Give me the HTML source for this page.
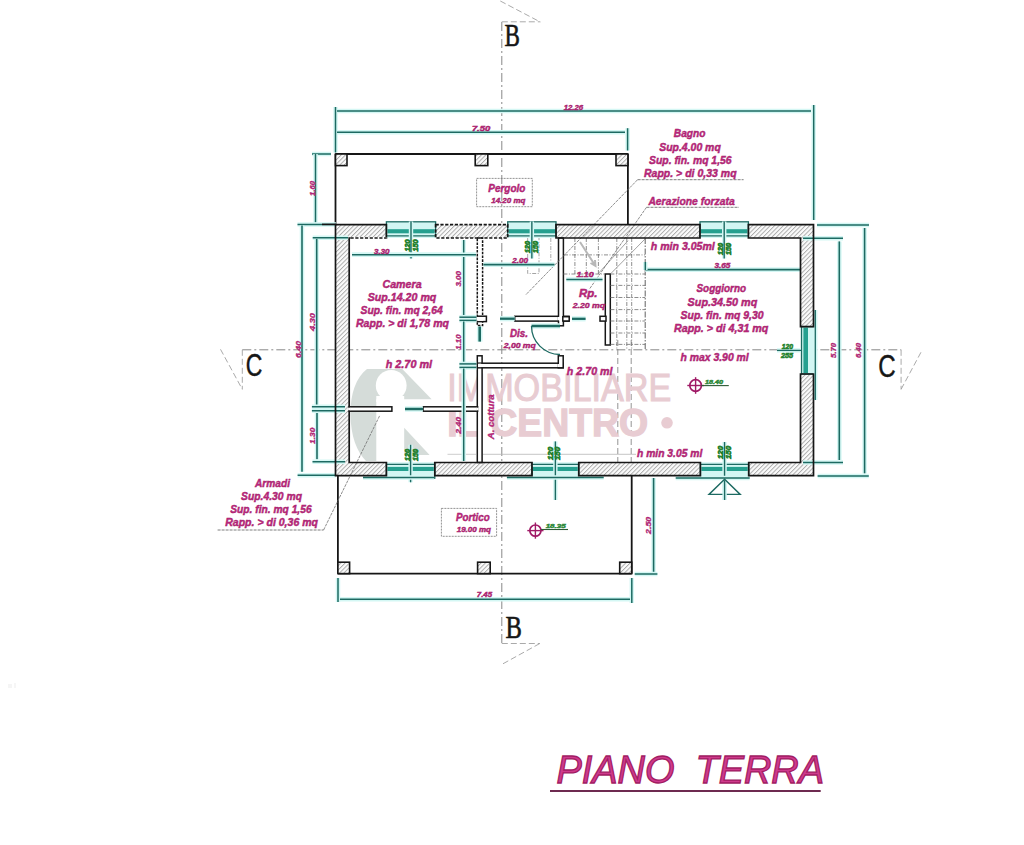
<!DOCTYPE html>
<html><head><meta charset="utf-8"><title>Piano Terra</title>
<style>
html,body{margin:0;padding:0;background:#fff;}
body{width:1024px;height:845px;overflow:hidden;font-family:"Liberation Sans", sans-serif;}
svg{display:block;}
</style></head><body>
<svg width="1024" height="845" viewBox="0 0 1024 845">
<defs>
<pattern id="h" width="3.1" height="3.1" patternUnits="userSpaceOnUse" patternTransform="rotate(45)">
<rect width="3.1" height="3.1" fill="#fbfbfb"/>
<line x1="0.5" y1="0" x2="0.5" y2="3.1" stroke="#a2a2a2" stroke-width="0.85"/>
</pattern>
</defs>
<rect width="1024" height="845" fill="#fff"/>
<rect x="8" y="684" width="4" height="4" fill="#f5f5f5"/><rect x="14" y="683" width="2" height="5" fill="#f6f6f6"/>
<line x1="501.8" y1="22" x2="501.8" y2="643.5" stroke="#888888" stroke-width="1.0" stroke-dasharray="9 3 2 3"/>
<line x1="501.8" y1="21.8" x2="540.3" y2="21.8" stroke="#a0a0a0" stroke-width="0.9" stroke-dasharray="6 3"/>
<line x1="500.3" y1="1" x2="540.3" y2="22" stroke="#a0a0a0" stroke-width="0.9" stroke-dasharray="6 3"/>
<line x1="501.8" y1="643.5" x2="539.8" y2="643.5" stroke="#a0a0a0" stroke-width="0.9" stroke-dasharray="6 3"/>
<line x1="539.8" y1="643.5" x2="502.2" y2="664.2" stroke="#a0a0a0" stroke-width="0.9" stroke-dasharray="6 3"/>
<line x1="242.3" y1="349.8" x2="901.2" y2="349.8" stroke="#888888" stroke-width="1.0" stroke-dasharray="9 3 2 3"/>
<line x1="242.3" y1="349.8" x2="242.3" y2="389.3" stroke="#a0a0a0" stroke-width="0.9" stroke-dasharray="6 3"/>
<line x1="220.5" y1="349.3" x2="242.3" y2="389.3" stroke="#a0a0a0" stroke-width="0.9" stroke-dasharray="6 3"/>
<line x1="901.1" y1="349.8" x2="901.1" y2="389.3" stroke="#a0a0a0" stroke-width="0.9" stroke-dasharray="6 3"/>
<line x1="901.1" y1="389.3" x2="922.3" y2="349.8" stroke="#a0a0a0" stroke-width="0.9" stroke-dasharray="6 3"/>
<line x1="617.8" y1="340" x2="617.8" y2="476" stroke="#888888" stroke-width="0.9" stroke-dasharray="6 3"/>
<line x1="631.2" y1="340" x2="631.2" y2="476" stroke="#888888" stroke-width="0.9" stroke-dasharray="6 3"/>
<g>
<path d="M402.3,369.1 L431.6,399.2 L376.3,399.2 L376.3,461 L366,461 C357,452 350.5,436 350.5,414 C350.5,393 356,378 367,369.1 Z" fill="#d5dcd9"/>
<circle cx="391.2" cy="385.4" r="15.4" fill="#fff"/>
<path d="M376.3,396 L404.2,396 L404.2,402 L376.3,402 Z" fill="#fff"/>
<path d="M404.2,427.7 L404.2,455 L429.6,455 Z" fill="#d5dcd9"/>
</g>
<text x="447.2" y="401" font-size="38" font-weight="normal" font-family='"Liberation Sans", sans-serif' fill="#e8ccd2" stroke="#e8ccd2" stroke-width="1.1" textLength="224" lengthAdjust="spacingAndGlyphs">IMMOBILIARE</text>
<text x="447.2" y="436" font-size="38" font-weight="bold" font-family='"Liberation Sans", sans-serif' fill="#e8ccd2" stroke="#e8ccd2" stroke-width="1.3" textLength="201" lengthAdjust="spacingAndGlyphs">IL CENTRO</text>
<circle cx="667" cy="422.8" r="5.8" fill="#e8ccd2"/>
<line x1="335.5" y1="154" x2="627.9" y2="154" stroke="#161616" stroke-width="1.8"/>
<line x1="335.5" y1="154" x2="335.5" y2="224.5" stroke="#161616" stroke-width="1.8"/>
<line x1="627.9" y1="154" x2="627.9" y2="224.5" stroke="#161616" stroke-width="1.8"/>
<rect x="335.5" y="154" width="11.5" height="11.6" fill="url(#h)" stroke="#161616" stroke-width="1.6"/>
<rect x="475.2" y="154" width="12.6" height="11.6" fill="url(#h)" stroke="#161616" stroke-width="1.6"/>
<rect x="616" y="154" width="11.9" height="11.6" fill="url(#h)" stroke="#161616" stroke-width="1.6"/>
<rect x="476.6" y="178.4" width="55.7" height="28.3" fill="none" stroke="#777" stroke-width="0.8" stroke-dasharray="2 1"/>
<line x1="337.9" y1="475.5" x2="337.9" y2="573.6" stroke="#161616" stroke-width="1.8"/>
<line x1="337.9" y1="573.6" x2="631.7" y2="573.6" stroke="#161616" stroke-width="1.8"/>
<line x1="631.7" y1="475.5" x2="631.7" y2="573.6" stroke="#161616" stroke-width="1.8"/>
<rect x="337.9" y="562.2" width="11.7" height="11.4" fill="url(#h)" stroke="#161616" stroke-width="1.6"/>
<rect x="477.6" y="562.2" width="12.6" height="11.4" fill="url(#h)" stroke="#161616" stroke-width="1.6"/>
<rect x="619.7" y="562.2" width="12" height="11.4" fill="url(#h)" stroke="#161616" stroke-width="1.6"/>
<rect x="441.4" y="508.4" width="55.2" height="27.9" fill="none" stroke="#777" stroke-width="0.8" stroke-dasharray="2 1"/>
<polygon points="386.4,224.6 335.5,224.6 335.5,475.6 386.4,475.6 386.4,462.5 349.2,462.5 349.2,238.0 386.4,238.0" fill="url(#h)" stroke="none"/>
<polygon points="435.6,224.6 507.7,224.6 507.7,238.0 435.6,238.0" fill="url(#h)" stroke="none"/>
<polygon points="556,224.6 700,224.6 700,238.0 556,238.0" fill="url(#h)" stroke="none"/>
<polygon points="748.4,224.6 813.5,224.6 813.5,326.6 800.5,326.6 800.5,238.0 748.4,238.0" fill="url(#h)" stroke="none"/>
<polygon points="813.5,374 813.5,475.6 748.7,475.6 748.7,462.5 800.5,462.5 800.5,374" fill="url(#h)" stroke="none"/>
<polygon points="434.8,462.5 532,462.5 532,475.6 434.8,475.6" fill="url(#h)" stroke="none"/>
<polygon points="578.75,462.5 700.4,462.5 700.4,475.6 578.75,475.6" fill="url(#h)" stroke="none"/>
<rect x="386.4" y="221.8" width="49.200000000000045" height="14.6" fill="#d2f6f3" stroke="#1d6a62" stroke-width="1.3"/>
<rect x="387.4" y="229.2" width="47.200000000000045" height="4.2" fill="#26a08f"/>
<line x1="386.4" y1="235.8" x2="435.6" y2="235.8" stroke="#d4f7f4" stroke-width="4.3"/>
<line x1="386.4" y1="235.8" x2="435.6" y2="235.8" stroke="#1d6a62" stroke-width="1.3"/>
<line x1="411.0" y1="221.5" x2="411.0" y2="258.5" stroke="#d4f7f4" stroke-width="4.4"/>
<line x1="411.0" y1="221.5" x2="411.0" y2="258.5" stroke="#1d6a62" stroke-width="1.4000000000000001"/>
<rect x="507.7" y="221.8" width="48.30000000000001" height="14.6" fill="#d2f6f3" stroke="#1d6a62" stroke-width="1.3"/>
<rect x="508.7" y="229.2" width="46.30000000000001" height="4.2" fill="#26a08f"/>
<line x1="507.7" y1="235.8" x2="556" y2="235.8" stroke="#d4f7f4" stroke-width="4.3"/>
<line x1="507.7" y1="235.8" x2="556" y2="235.8" stroke="#1d6a62" stroke-width="1.3"/>
<line x1="531.85" y1="221.5" x2="531.85" y2="258.5" stroke="#d4f7f4" stroke-width="4.4"/>
<line x1="531.85" y1="221.5" x2="531.85" y2="258.5" stroke="#1d6a62" stroke-width="1.4000000000000001"/>
<rect x="700" y="221.8" width="48.39999999999998" height="14.6" fill="#d2f6f3" stroke="#1d6a62" stroke-width="1.3"/>
<rect x="701" y="229.2" width="46.39999999999998" height="4.2" fill="#26a08f"/>
<line x1="700" y1="235.8" x2="748.4" y2="235.8" stroke="#d4f7f4" stroke-width="4.3"/>
<line x1="700" y1="235.8" x2="748.4" y2="235.8" stroke="#1d6a62" stroke-width="1.3"/>
<line x1="724.2" y1="221.5" x2="724.2" y2="258.5" stroke="#d4f7f4" stroke-width="4.4"/>
<line x1="724.2" y1="221.5" x2="724.2" y2="258.5" stroke="#1d6a62" stroke-width="1.4000000000000001"/>
<rect x="386.4" y="463.6" width="48.400000000000034" height="14.6" fill="#d2f6f3" stroke="#1d6a62" stroke-width="1.3"/>
<rect x="387.4" y="466.8" width="46.400000000000034" height="4.2" fill="#26a08f"/>
<line x1="386.4" y1="464.3" x2="434.8" y2="464.3" stroke="#d4f7f4" stroke-width="4.3"/>
<line x1="386.4" y1="464.3" x2="434.8" y2="464.3" stroke="#1d6a62" stroke-width="1.3"/>
<line x1="410.6" y1="444.8" x2="410.6" y2="482.3" stroke="#d4f7f4" stroke-width="4.4"/>
<line x1="410.6" y1="444.8" x2="410.6" y2="482.3" stroke="#1d6a62" stroke-width="1.4000000000000001"/>
<rect x="532" y="463.6" width="46.75" height="14.6" fill="#d2f6f3" stroke="#1d6a62" stroke-width="1.3"/>
<rect x="533" y="466.8" width="44.75" height="4.2" fill="#26a08f"/>
<line x1="532" y1="464.3" x2="578.75" y2="464.3" stroke="#d4f7f4" stroke-width="4.3"/>
<line x1="532" y1="464.3" x2="578.75" y2="464.3" stroke="#1d6a62" stroke-width="1.3"/>
<line x1="555.375" y1="441.4" x2="555.375" y2="500" stroke="#d4f7f4" stroke-width="4.4"/>
<line x1="555.375" y1="441.4" x2="555.375" y2="500" stroke="#1d6a62" stroke-width="1.4000000000000001"/>
<rect x="700.4" y="463.6" width="48.30000000000007" height="14.6" fill="#d2f6f3" stroke="#1d6a62" stroke-width="1.3"/>
<rect x="701.4" y="466.8" width="46.30000000000007" height="4.2" fill="#26a08f"/>
<line x1="700.4" y1="464.3" x2="748.7" y2="464.3" stroke="#d4f7f4" stroke-width="4.3"/>
<line x1="700.4" y1="464.3" x2="748.7" y2="464.3" stroke="#1d6a62" stroke-width="1.3"/>
<line x1="724.55" y1="442" x2="724.55" y2="500" stroke="#d4f7f4" stroke-width="4.4"/>
<line x1="724.55" y1="442" x2="724.55" y2="500" stroke="#1d6a62" stroke-width="1.4000000000000001"/>
<rect x="801.5" y="326.6" width="13.5" height="47.4" fill="#d2f6f3" stroke="#1d6a62" stroke-width="1.3"/>
<rect x="803.4" y="327.6" width="4.6" height="45.4" fill="#26a08f"/>
<line x1="815.3" y1="310" x2="815.3" y2="400" stroke="#d4f7f4" stroke-width="4.3"/>
<line x1="815.3" y1="310" x2="815.3" y2="400" stroke="#1d6a62" stroke-width="1.3"/>
<line x1="506.9" y1="477.4" x2="603.7" y2="477.4" stroke="#d4f7f4" stroke-width="4.5"/>
<line x1="506.9" y1="477.4" x2="603.7" y2="477.4" stroke="#1d6a62" stroke-width="1.5"/>
<line x1="675.7" y1="477.9" x2="749.6" y2="477.9" stroke="#d4f7f4" stroke-width="4.5"/>
<line x1="675.7" y1="477.9" x2="749.6" y2="477.9" stroke="#1d6a62" stroke-width="1.5"/>
<line x1="363" y1="477.4" x2="434" y2="477.4" stroke="#d4f7f4" stroke-width="4.5"/>
<line x1="363" y1="477.4" x2="434" y2="477.4" stroke="#1d6a62" stroke-width="1.5"/>
<path d="M724.6,479.2 L709,494.4 L740.2,494.4 Z" fill="none" stroke="#1d6a62" stroke-width="1.4"/>
<line x1="724.6" y1="484" x2="724.6" y2="500" stroke="#d4f7f4" stroke-width="4.4"/>
<line x1="724.6" y1="484" x2="724.6" y2="500" stroke="#1d6a62" stroke-width="1.4000000000000001"/>
<rect x="477.3" y="238.0" width="5.300000000000011" height="87.5" fill="#fff" stroke="#161616" stroke-width="1.5" stroke-dasharray="2.6 1.2"/>
<rect x="477.3" y="316.2" width="9.099999999999966" height="5.400000000000034" fill="#fff" stroke="#161616" stroke-width="1.5"/>
<rect x="477.3" y="355.8" width="4.800000000000011" height="106.69999999999999" fill="#fff" stroke="#161616" stroke-width="1.5"/>
<rect x="477.3" y="363.2" width="85.90000000000003" height="4.600000000000023" fill="#fff" stroke="#161616" stroke-width="1.5"/>
<rect x="478.2" y="363.6" width="3" height="3.5" fill="#fff"/>
<rect x="558.3" y="355.8" width="4.900000000000091" height="12.0" fill="#fff" stroke="#161616" stroke-width="1.5"/>
<rect x="514.7" y="316.3" width="54.299999999999955" height="4.800000000000011" fill="#fff" stroke="#161616" stroke-width="1.5"/>
<rect x="558.5" y="238.0" width="4.899999999999977" height="87.80000000000001" fill="#fff" stroke="#161616" stroke-width="1.5"/>
<rect x="559.3" y="316.9" width="3.4" height="3.8" fill="#fff"/>
<rect x="605.3" y="274" width="5.0" height="71" fill="#fff" stroke="#161616" stroke-width="1.5"/>
<rect x="600" y="316.3" width="6" height="4.800000000000011" fill="#fff" stroke="#161616" stroke-width="1.5"/>
<rect x="349.2" y="406.8" width="42.69999999999999" height="4.399999999999977" fill="#fff" stroke="#161616" stroke-width="1.5"/>
<rect x="423" y="406.8" width="54.60000000000002" height="4.399999999999977" fill="#fff" stroke="#161616" stroke-width="1.5"/>
<rect x="476.4" y="407.7" width="2.2" height="2.6" fill="#fff"/>
<rect x="481.2" y="364.0" width="1.8" height="3.0" fill="#fff"/>
<rect x="557.4" y="364.0" width="1.8" height="3.0" fill="#fff"/>
<rect x="557.7" y="317.0" width="6.5" height="3.3" fill="#fff"/>
<rect x="476.6" y="317.0" width="6.6" height="3.8" fill="#fff"/>
<line x1="479.7" y1="326.5" x2="479.7" y2="341.6" stroke="#d4f7f4" stroke-width="5.6"/>
<line x1="479.7" y1="326.5" x2="479.7" y2="341.6" stroke="#1d6a62" stroke-width="2.5999999999999996"/>
<line x1="500" y1="318.7" x2="514.7" y2="318.7" stroke="#d4f7f4" stroke-width="5.3"/>
<line x1="500" y1="318.7" x2="514.7" y2="318.7" stroke="#1d6a62" stroke-width="2.3"/>
<line x1="572" y1="318.8" x2="585.6" y2="318.8" stroke="#d4f7f4" stroke-width="5.3"/>
<line x1="572" y1="318.8" x2="585.6" y2="318.8" stroke="#1d6a62" stroke-width="2.3"/>
<line x1="405" y1="409" x2="423" y2="409" stroke="#d4f7f4" stroke-width="5.5"/>
<line x1="405" y1="409" x2="423" y2="409" stroke="#1d6a62" stroke-width="2.5"/>
<line x1="531.5" y1="326" x2="560" y2="326" stroke="#d4f7f4" stroke-width="5.5"/>
<line x1="531.5" y1="326" x2="560" y2="326" stroke="#1d6a62" stroke-width="2.5"/>
<path d="M531.5,326 A28.5,28.5 0 0 0 560,354.5" fill="none" stroke="#1d6a62" stroke-width="1.3"/>
<line x1="574.9" y1="238.0" x2="574.9" y2="274" stroke="#707070" stroke-width="0.8" stroke-dasharray="4 1.5 1 1.5"/>
<line x1="586.3" y1="238.0" x2="586.3" y2="274" stroke="#707070" stroke-width="0.8" stroke-dasharray="4 1.5 1 1.5"/>
<line x1="598.4" y1="238.0" x2="598.4" y2="274" stroke="#707070" stroke-width="0.8" stroke-dasharray="4 1.5 1 1.5"/>
<line x1="616.8" y1="238.0" x2="616.8" y2="350" stroke="#707070" stroke-width="0.8" stroke-dasharray="4 1.5 1 1.5"/>
<line x1="626.8" y1="238.0" x2="626.8" y2="350" stroke="#707070" stroke-width="0.8" stroke-dasharray="4 1.5 1 1.5"/>
<line x1="631.7" y1="238.0" x2="631.7" y2="350" stroke="#707070" stroke-width="0.8" stroke-dasharray="4 1.5 1 1.5"/>
<line x1="645.2" y1="238.0" x2="645.2" y2="350" stroke="#505050" stroke-width="0.9" stroke-dasharray="6 1.5 1.5 1.5"/>
<line x1="564" y1="254.9" x2="645" y2="254.9" stroke="#707070" stroke-width="0.8" stroke-dasharray="4 1.5 1 1.5"/>
<line x1="610.4" y1="274" x2="645.2" y2="274" stroke="#707070" stroke-width="0.8" stroke-dasharray="4 1.5 1 1.5"/>
<line x1="610.4" y1="285.4" x2="645.2" y2="285.4" stroke="#707070" stroke-width="0.8" stroke-dasharray="4 1.5 1 1.5"/>
<line x1="610.4" y1="297.5" x2="645.2" y2="297.5" stroke="#707070" stroke-width="0.8" stroke-dasharray="4 1.5 1 1.5"/>
<line x1="610.4" y1="309.6" x2="645.2" y2="309.6" stroke="#707070" stroke-width="0.8" stroke-dasharray="4 1.5 1 1.5"/>
<line x1="610.4" y1="321" x2="645.2" y2="321" stroke="#707070" stroke-width="0.8" stroke-dasharray="4 1.5 1 1.5"/>
<line x1="610.4" y1="333" x2="645.2" y2="333" stroke="#707070" stroke-width="0.8" stroke-dasharray="4 1.5 1 1.5"/>
<line x1="610.4" y1="344.4" x2="645.2" y2="344.4" stroke="#707070" stroke-width="0.8" stroke-dasharray="4 1.5 1 1.5"/>
<line x1="563.4" y1="274" x2="605" y2="274" stroke="#707070" stroke-width="0.8" stroke-dasharray="4 1.5 1 1.5"/>
<line x1="598.4" y1="273.4" x2="628" y2="240.7" stroke="#8a8a8a" stroke-width="0.8"/>
<line x1="611" y1="273.4" x2="645" y2="239" stroke="#8a8a8a" stroke-width="0.8"/>
<path d="M580,242 L595.5,266 M590.5,263 L595.5,266 L595,260" stroke="#b8b8b8" stroke-width="2" fill="none"/>
<rect x="562.8" y="316.7" width="6.400000000000091" height="4.300000000000011" fill="#fff" stroke="#161616" stroke-width="1.5"/>
<path d="M527.7,238 L527.7,273.5 L539,273.5 L539,238" fill="none" stroke="#9a9a9a" stroke-width="0.9" stroke-dasharray="4 1.5 1 1.5"/>
<line x1="550.8" y1="238" x2="550.8" y2="261" stroke="#a0a0a0" stroke-width="0.9" stroke-dasharray="4 1.5 1 1.5"/>
<line x1="637.6" y1="179.7" x2="743.6" y2="179.7" stroke="#707070" stroke-width="0.9" stroke-dasharray="3 1"/>
<line x1="637.6" y1="179.7" x2="525.6" y2="295" stroke="#707070" stroke-width="0.8" stroke-dasharray="3 1"/>
<line x1="646.5" y1="207.3" x2="739" y2="207.3" stroke="#707070" stroke-width="0.9" stroke-dasharray="3 1"/>
<line x1="646.5" y1="207.3" x2="589.5" y2="289" stroke="#707070" stroke-width="0.8" stroke-dasharray="3 1"/>
<line x1="217.6" y1="530" x2="323.6" y2="530" stroke="#707070" stroke-width="0.9" stroke-dasharray="3 1"/>
<line x1="323.6" y1="530" x2="380" y2="415" stroke="#707070" stroke-width="0.8" stroke-dasharray="3 1"/>
<line x1="447.5" y1="454.3" x2="476" y2="454.3" stroke="#c0c0c0" stroke-width="0.8"/>
<line x1="483" y1="454.3" x2="636" y2="454.3" stroke="#b8b8b8" stroke-width="0.8"/>
<line x1="335.5" y1="107" x2="335.5" y2="152.5" stroke="#d4f7f4" stroke-width="4.5"/>
<line x1="335.5" y1="107" x2="335.5" y2="152.5" stroke="#1d6a62" stroke-width="1.5"/>
<line x1="813.7" y1="105" x2="813.7" y2="220" stroke="#d4f7f4" stroke-width="4.5"/>
<line x1="813.7" y1="105" x2="813.7" y2="220" stroke="#1d6a62" stroke-width="1.5"/>
<line x1="627.6" y1="128.2" x2="627.6" y2="150.5" stroke="#d4f7f4" stroke-width="4.5"/>
<line x1="627.6" y1="128.2" x2="627.6" y2="150.5" stroke="#1d6a62" stroke-width="1.5"/>
<line x1="337" y1="111" x2="811" y2="111" stroke="#d4f7f4" stroke-width="4.6"/>
<line x1="337" y1="111" x2="811" y2="111" stroke="#1d6a62" stroke-width="1.6"/>
<line x1="337" y1="132.2" x2="625" y2="132.2" stroke="#d4f7f4" stroke-width="4.6"/>
<line x1="337" y1="132.2" x2="625" y2="132.2" stroke="#1d6a62" stroke-width="1.6"/>
<line x1="312" y1="154" x2="331" y2="154" stroke="#d4f7f4" stroke-width="4.5"/>
<line x1="312" y1="154" x2="331" y2="154" stroke="#1d6a62" stroke-width="1.5"/>
<line x1="315.5" y1="154" x2="315.5" y2="222.5" stroke="#d4f7f4" stroke-width="4.5"/>
<line x1="315.5" y1="154" x2="315.5" y2="222.5" stroke="#1d6a62" stroke-width="1.5"/>
<line x1="297.5" y1="224.4" x2="336" y2="224.4" stroke="#d4f7f4" stroke-width="4.5"/>
<line x1="297.5" y1="224.4" x2="336" y2="224.4" stroke="#1d6a62" stroke-width="1.5"/>
<line x1="302" y1="225.6" x2="302" y2="471.7" stroke="#d4f7f4" stroke-width="4.6"/>
<line x1="302" y1="225.6" x2="302" y2="471.7" stroke="#1d6a62" stroke-width="1.6"/>
<line x1="297.6" y1="475.3" x2="336" y2="475.3" stroke="#d4f7f4" stroke-width="4.5"/>
<line x1="297.6" y1="475.3" x2="336" y2="475.3" stroke="#1d6a62" stroke-width="1.5"/>
<line x1="312.7" y1="237.7" x2="348" y2="237.7" stroke="#d4f7f4" stroke-width="4.5"/>
<line x1="312.7" y1="237.7" x2="348" y2="237.7" stroke="#1d6a62" stroke-width="1.5"/>
<line x1="316.7" y1="238.9" x2="316.7" y2="405.4" stroke="#d4f7f4" stroke-width="4.6"/>
<line x1="316.7" y1="238.9" x2="316.7" y2="405.4" stroke="#1d6a62" stroke-width="1.6"/>
<line x1="311.9" y1="406.7" x2="345" y2="406.7" stroke="#d4f7f4" stroke-width="4.5"/>
<line x1="311.9" y1="406.7" x2="345" y2="406.7" stroke="#1d6a62" stroke-width="1.5"/>
<line x1="311.9" y1="410.8" x2="345" y2="410.8" stroke="#d4f7f4" stroke-width="4.5"/>
<line x1="311.9" y1="410.8" x2="345" y2="410.8" stroke="#1d6a62" stroke-width="1.5"/>
<line x1="317" y1="413" x2="317" y2="459.3" stroke="#d4f7f4" stroke-width="4.6"/>
<line x1="317" y1="413" x2="317" y2="459.3" stroke="#1d6a62" stroke-width="1.6"/>
<line x1="312.5" y1="461.7" x2="345" y2="461.7" stroke="#d4f7f4" stroke-width="4.5"/>
<line x1="312.5" y1="461.7" x2="345" y2="461.7" stroke="#1d6a62" stroke-width="1.5"/>
<line x1="352" y1="254.8" x2="476" y2="254.8" stroke="#d4f7f4" stroke-width="4.6"/>
<line x1="352" y1="254.8" x2="476" y2="254.8" stroke="#1d6a62" stroke-width="1.6"/>
<line x1="463.7" y1="240" x2="463.7" y2="316" stroke="#d4f7f4" stroke-width="4.5"/>
<line x1="463.7" y1="240" x2="463.7" y2="316" stroke="#1d6a62" stroke-width="1.5"/>
<line x1="459.4" y1="317.2" x2="476.4" y2="317.2" stroke="#d4f7f4" stroke-width="4.5"/>
<line x1="459.4" y1="317.2" x2="476.4" y2="317.2" stroke="#1d6a62" stroke-width="1.5"/>
<line x1="459.4" y1="320.4" x2="476.4" y2="320.4" stroke="#d4f7f4" stroke-width="4.5"/>
<line x1="459.4" y1="320.4" x2="476.4" y2="320.4" stroke="#1d6a62" stroke-width="1.5"/>
<line x1="463.7" y1="321.5" x2="463.7" y2="362.5" stroke="#d4f7f4" stroke-width="4.5"/>
<line x1="463.7" y1="321.5" x2="463.7" y2="362.5" stroke="#1d6a62" stroke-width="1.5"/>
<line x1="459.4" y1="363.9" x2="476.4" y2="363.9" stroke="#d4f7f4" stroke-width="4.5"/>
<line x1="459.4" y1="363.9" x2="476.4" y2="363.9" stroke="#1d6a62" stroke-width="1.5"/>
<line x1="459.4" y1="367.4" x2="476.4" y2="367.4" stroke="#d4f7f4" stroke-width="4.5"/>
<line x1="459.4" y1="367.4" x2="476.4" y2="367.4" stroke="#1d6a62" stroke-width="1.5"/>
<line x1="463.7" y1="368.5" x2="463.7" y2="461" stroke="#d4f7f4" stroke-width="4.5"/>
<line x1="463.7" y1="368.5" x2="463.7" y2="461" stroke="#1d6a62" stroke-width="1.5"/>
<line x1="483.4" y1="264.6" x2="554.5" y2="264.6" stroke="#d4f7f4" stroke-width="4.6"/>
<line x1="483.4" y1="264.6" x2="554.5" y2="264.6" stroke="#1d6a62" stroke-width="1.6"/>
<line x1="566.3" y1="279.5" x2="602.5" y2="279.5" stroke="#d4f7f4" stroke-width="4.6"/>
<line x1="566.3" y1="279.5" x2="602.5" y2="279.5" stroke="#1d6a62" stroke-width="1.6"/>
<line x1="645.3" y1="269.6" x2="800" y2="269.6" stroke="#d4f7f4" stroke-width="4.6"/>
<line x1="645.3" y1="269.6" x2="800" y2="269.6" stroke="#1d6a62" stroke-width="1.6"/>
<line x1="645.3" y1="262" x2="645.3" y2="270" stroke="#d4f7f4" stroke-width="4.5"/>
<line x1="645.3" y1="262" x2="645.3" y2="270" stroke="#1d6a62" stroke-width="1.5"/>
<line x1="817" y1="225" x2="869" y2="225" stroke="#d4f7f4" stroke-width="4.5"/>
<line x1="817" y1="225" x2="869" y2="225" stroke="#1d6a62" stroke-width="1.5"/>
<line x1="803" y1="238.3" x2="843" y2="238.3" stroke="#d4f7f4" stroke-width="4.5"/>
<line x1="803" y1="238.3" x2="843" y2="238.3" stroke="#1d6a62" stroke-width="1.5"/>
<line x1="839.3" y1="241.4" x2="839.3" y2="460" stroke="#d4f7f4" stroke-width="4.6"/>
<line x1="839.3" y1="241.4" x2="839.3" y2="460" stroke="#1d6a62" stroke-width="1.6"/>
<line x1="864.6" y1="228" x2="864.6" y2="473.4" stroke="#d4f7f4" stroke-width="4.6"/>
<line x1="864.6" y1="228" x2="864.6" y2="473.4" stroke="#1d6a62" stroke-width="1.6"/>
<line x1="803" y1="462.4" x2="843" y2="462.4" stroke="#d4f7f4" stroke-width="4.5"/>
<line x1="803" y1="462.4" x2="843" y2="462.4" stroke="#1d6a62" stroke-width="1.5"/>
<line x1="817.6" y1="476" x2="868.8" y2="476" stroke="#d4f7f4" stroke-width="4.5"/>
<line x1="817.6" y1="476" x2="868.8" y2="476" stroke="#1d6a62" stroke-width="1.5"/>
<line x1="653.6" y1="478" x2="653.6" y2="573.6" stroke="#d4f7f4" stroke-width="4.6"/>
<line x1="653.6" y1="478" x2="653.6" y2="573.6" stroke="#1d6a62" stroke-width="1.6"/>
<line x1="634.7" y1="574" x2="657.4" y2="574" stroke="#d4f7f4" stroke-width="4.5"/>
<line x1="634.7" y1="574" x2="657.4" y2="574" stroke="#1d6a62" stroke-width="1.5"/>
<line x1="338" y1="578" x2="338" y2="602" stroke="#d4f7f4" stroke-width="4.5"/>
<line x1="338" y1="578" x2="338" y2="602" stroke="#1d6a62" stroke-width="1.5"/>
<line x1="631.8" y1="578" x2="631.8" y2="603" stroke="#d4f7f4" stroke-width="4.5"/>
<line x1="631.8" y1="578" x2="631.8" y2="603" stroke="#1d6a62" stroke-width="1.5"/>
<line x1="340" y1="599.3" x2="630" y2="599.3" stroke="#d4f7f4" stroke-width="4.6"/>
<line x1="340" y1="599.3" x2="630" y2="599.3" stroke="#1d6a62" stroke-width="1.6"/>
<line x1="352" y1="254.8" x2="476" y2="254.8" stroke="#d4f7f4" stroke-width="4.6"/>
<line x1="352" y1="254.8" x2="476" y2="254.8" stroke="#1d6a62" stroke-width="1.6"/>
<line x1="777" y1="350.4" x2="801" y2="350.4" stroke="#d4f7f4" stroke-width="4.3"/>
<line x1="777" y1="350.4" x2="801" y2="350.4" stroke="#1d6a62" stroke-width="1.3"/>
<polygon points="386.4,224.6 335.5,224.6 335.5,475.6 386.4,475.6 386.4,462.5 349.2,462.5 349.2,238.0 386.4,238.0" fill="none" stroke="#161616" stroke-width="1.7" stroke-linejoin="miter"/>
<polygon points="435.6,224.6 507.7,224.6 507.7,238.0 435.6,238.0" fill="none" stroke="#161616" stroke-width="1.7" stroke-linejoin="miter" stroke-dasharray="3.2 1.6"/>
<polygon points="556,224.6 700,224.6 700,238.0 556,238.0" fill="none" stroke="#161616" stroke-width="1.7" stroke-linejoin="miter"/>
<polygon points="748.4,224.6 813.5,224.6 813.5,326.6 800.5,326.6 800.5,238.0 748.4,238.0" fill="none" stroke="#161616" stroke-width="1.7" stroke-linejoin="miter"/>
<polygon points="813.5,374 813.5,475.6 748.7,475.6 748.7,462.5 800.5,462.5 800.5,374" fill="none" stroke="#161616" stroke-width="1.7" stroke-linejoin="miter"/>
<polygon points="434.8,462.5 532,462.5 532,475.6 434.8,475.6" fill="none" stroke="#161616" stroke-width="1.7" stroke-linejoin="miter"/>
<polygon points="578.75,462.5 700.4,462.5 700.4,475.6 578.75,475.6" fill="none" stroke="#161616" stroke-width="1.7" stroke-linejoin="miter"/>
<rect x="348.1" y="407.7" width="2.3" height="2.6" fill="#fff"/>
<line x1="350.5" y1="238.0" x2="386.4" y2="238.0" stroke="#ffffff" stroke-width="2.0"/>
<line x1="350.5" y1="238.0" x2="386.4" y2="238.0" stroke="#161616" stroke-width="1.7" stroke-dasharray="3.2 1.6"/>
<line x1="322" y1="224.4" x2="336" y2="224.4" stroke="#161616" stroke-width="1.6"/>
<circle cx="695.6" cy="385.5" r="5.8" fill="none" stroke="#a01a66" stroke-width="1.7"/>
<line x1="687.3000000000001" y1="385.5" x2="703.9" y2="385.5" stroke="#a01a66" stroke-width="1.4"/>
<line x1="695.6" y1="377.2" x2="695.6" y2="393.8" stroke="#a01a66" stroke-width="1.4"/>
<line x1="701.4" y1="385.6" x2="728.8" y2="385.6" stroke="#2d5a35" stroke-width="1.1"/>
<text x="705" y="383.6" font-size="5.8" font-weight="bold" font-style="italic" fill="#2f8a3c" textLength="18.0" lengthAdjust="spacingAndGlyphs" font-family='"Liberation Sans", sans-serif' stroke="#2f8a3c" stroke-width="0.5">18.40</text>
<circle cx="535.4" cy="530.6" r="5.6" fill="none" stroke="#a01a66" stroke-width="1.7"/>
<line x1="527.3" y1="530.6" x2="543.5" y2="530.6" stroke="#a01a66" stroke-width="1.4"/>
<line x1="535.4" y1="522.5" x2="535.4" y2="538.7" stroke="#a01a66" stroke-width="1.4"/>
<line x1="541.0" y1="529.5" x2="568" y2="529.5" stroke="#2d5a35" stroke-width="1.1"/>
<text x="545.7" y="527.5" font-size="5.8" font-weight="bold" font-style="italic" fill="#2f8a3c" textLength="19.9" lengthAdjust="spacingAndGlyphs" font-family='"Liberation Sans", sans-serif' stroke="#2f8a3c" stroke-width="0.5">18.35</text>
<text x="673.8" y="137.1" font-size="10.2" font-weight="bold" font-style="italic" fill="#c0287f" textLength="31.7" lengthAdjust="spacingAndGlyphs" font-family='"Liberation Sans", sans-serif' stroke="#a01a66" stroke-width="0.4">Bagno</text>
<text x="659.2" y="150.5" font-size="10.2" font-weight="bold" font-style="italic" fill="#c0287f" textLength="61.6" lengthAdjust="spacingAndGlyphs" font-family='"Liberation Sans", sans-serif' stroke="#a01a66" stroke-width="0.4">Sup.4.00 mq</text>
<text x="649" y="163.8" font-size="10.2" font-weight="bold" font-style="italic" fill="#c0287f" textLength="82.6" lengthAdjust="spacingAndGlyphs" font-family='"Liberation Sans", sans-serif' stroke="#a01a66" stroke-width="0.4">Sup. fin. mq 1,56</text>
<text x="644" y="176.5" font-size="10.2" font-weight="bold" font-style="italic" fill="#c0287f" textLength="92.6" lengthAdjust="spacingAndGlyphs" font-family='"Liberation Sans", sans-serif' stroke="#a01a66" stroke-width="0.4">Rapp. &gt; di 0,33 mq</text>
<text x="648.4" y="205" font-size="10.2" font-weight="bold" font-style="italic" fill="#c0287f" textLength="86.3" lengthAdjust="spacingAndGlyphs" font-family='"Liberation Sans", sans-serif' stroke="#a01a66" stroke-width="0.4">Aerazione forzata</text>
<text x="382.5" y="288" font-size="10.2" font-weight="bold" font-style="italic" fill="#c0287f" textLength="39.1" lengthAdjust="spacingAndGlyphs" font-family='"Liberation Sans", sans-serif' stroke="#a01a66" stroke-width="0.4">Camera</text>
<text x="367.7" y="301.4" font-size="10.2" font-weight="bold" font-style="italic" fill="#c0287f" textLength="68.7" lengthAdjust="spacingAndGlyphs" font-family='"Liberation Sans", sans-serif' stroke="#a01a66" stroke-width="0.4">Sup.14.20 mq</text>
<text x="360.6" y="313.9" font-size="10.2" font-weight="bold" font-style="italic" fill="#c0287f" textLength="82.1" lengthAdjust="spacingAndGlyphs" font-family='"Liberation Sans", sans-serif' stroke="#a01a66" stroke-width="0.4">Sup. fin. mq 2,64</text>
<text x="356" y="327.2" font-size="10.2" font-weight="bold" font-style="italic" fill="#c0287f" textLength="93.0" lengthAdjust="spacingAndGlyphs" font-family='"Liberation Sans", sans-serif' stroke="#a01a66" stroke-width="0.4">Rapp. &gt; di 1,78 mq</text>
<text x="696.5" y="292.4" font-size="10.2" font-weight="bold" font-style="italic" fill="#c0287f" textLength="49.5" lengthAdjust="spacingAndGlyphs" font-family='"Liberation Sans", sans-serif' stroke="#a01a66" stroke-width="0.4">Soggiorno</text>
<text x="687.6" y="305.8" font-size="10.2" font-weight="bold" font-style="italic" fill="#c0287f" textLength="69.7" lengthAdjust="spacingAndGlyphs" font-family='"Liberation Sans", sans-serif' stroke="#a01a66" stroke-width="0.4">Sup.34.50 mq</text>
<text x="680.6" y="318.6" font-size="10.2" font-weight="bold" font-style="italic" fill="#c0287f" textLength="83.0" lengthAdjust="spacingAndGlyphs" font-family='"Liberation Sans", sans-serif' stroke="#a01a66" stroke-width="0.4">Sup. fin. mq 9,30</text>
<text x="674" y="332" font-size="10.2" font-weight="bold" font-style="italic" fill="#c0287f" textLength="94.4" lengthAdjust="spacingAndGlyphs" font-family='"Liberation Sans", sans-serif' stroke="#a01a66" stroke-width="0.4">Rapp. &gt; di 4,31 mq</text>
<text x="255" y="486.6" font-size="10.2" font-weight="bold" font-style="italic" fill="#c0287f" textLength="35.0" lengthAdjust="spacingAndGlyphs" font-family='"Liberation Sans", sans-serif' stroke="#a01a66" stroke-width="0.4">Armadi</text>
<text x="241.1" y="500.3" font-size="10.2" font-weight="bold" font-style="italic" fill="#c0287f" textLength="60.9" lengthAdjust="spacingAndGlyphs" font-family='"Liberation Sans", sans-serif' stroke="#a01a66" stroke-width="0.4">Sup.4.30 mq</text>
<text x="230.3" y="513.3" font-size="10.2" font-weight="bold" font-style="italic" fill="#c0287f" textLength="81.3" lengthAdjust="spacingAndGlyphs" font-family='"Liberation Sans", sans-serif' stroke="#a01a66" stroke-width="0.4">Sup. fin. mq 1,56</text>
<text x="225.2" y="526.2" font-size="10.2" font-weight="bold" font-style="italic" fill="#c0287f" textLength="92.8" lengthAdjust="spacingAndGlyphs" font-family='"Liberation Sans", sans-serif' stroke="#a01a66" stroke-width="0.4">Rapp. &gt; di 0,36 mq</text>
<text x="650.8" y="250" font-size="10.2" font-weight="bold" font-style="italic" fill="#c0287f" textLength="64.0" lengthAdjust="spacingAndGlyphs" font-family='"Liberation Sans", sans-serif' stroke="#a01a66" stroke-width="0.4">h min 3.05ml</text>
<text x="680.5" y="360.5" font-size="10.2" font-weight="bold" font-style="italic" fill="#c0287f" textLength="68.2" lengthAdjust="spacingAndGlyphs" font-family='"Liberation Sans", sans-serif' stroke="#a01a66" stroke-width="0.4">h max 3.90 ml</text>
<text x="385.7" y="367.6" font-size="10.2" font-weight="bold" font-style="italic" fill="#c0287f" textLength="46.4" lengthAdjust="spacingAndGlyphs" font-family='"Liberation Sans", sans-serif' stroke="#a01a66" stroke-width="0.4">h 2.70 ml</text>
<text x="566.8" y="375.3" font-size="10.2" font-weight="bold" font-style="italic" fill="#c0287f" textLength="45.7" lengthAdjust="spacingAndGlyphs" font-family='"Liberation Sans", sans-serif' stroke="#a01a66" stroke-width="0.4">h 2.70 ml</text>
<text x="637" y="457" font-size="10.2" font-weight="bold" font-style="italic" fill="#c0287f" textLength="65.3" lengthAdjust="spacingAndGlyphs" font-family='"Liberation Sans", sans-serif' stroke="#a01a66" stroke-width="0.4">h min 3.05 ml</text>
<text x="510" y="336.7" font-size="10.2" font-weight="bold" font-style="italic" fill="#c0287f" textLength="18.0" lengthAdjust="spacingAndGlyphs" font-family='"Liberation Sans", sans-serif' stroke="#a01a66" stroke-width="0.4">Dis.</text>
<text x="503.75" y="348.4" font-size="7.2" font-weight="bold" font-style="italic" fill="#c0287f" textLength="32.0" lengthAdjust="spacingAndGlyphs" font-family='"Liberation Sans", sans-serif' stroke="#a01a66" stroke-width="0.4">2,00 mq</text>
<text x="579" y="296.8" font-size="10.2" font-weight="bold" font-style="italic" fill="#c0287f" textLength="18.5" lengthAdjust="spacingAndGlyphs" font-family='"Liberation Sans", sans-serif' stroke="#a01a66" stroke-width="0.4">Rp.</text>
<text x="572.7" y="308" font-size="7.2" font-weight="bold" font-style="italic" fill="#c0287f" textLength="32.3" lengthAdjust="spacingAndGlyphs" font-family='"Liberation Sans", sans-serif' stroke="#a01a66" stroke-width="0.4">2.20 mq</text>
<text x="488.3" y="191.7" font-size="10.2" font-weight="bold" font-style="italic" fill="#c0287f" textLength="37.1" lengthAdjust="spacingAndGlyphs" font-family='"Liberation Sans", sans-serif' stroke="#a01a66" stroke-width="0.4">Pergolo</text>
<text x="491.25" y="203" font-size="7" font-weight="bold" font-style="italic" fill="#c0287f" textLength="34.1" lengthAdjust="spacingAndGlyphs" font-family='"Liberation Sans", sans-serif' stroke="#a01a66" stroke-width="0.4">14.20 mq</text>
<text x="456" y="520.5" font-size="10.2" font-weight="bold" font-style="italic" fill="#c0287f" textLength="33.7" lengthAdjust="spacingAndGlyphs" font-family='"Liberation Sans", sans-serif' stroke="#a01a66" stroke-width="0.4">Portico</text>
<text x="456.7" y="531.9" font-size="7" font-weight="bold" font-style="italic" fill="#c0287f" textLength="34.3" lengthAdjust="spacingAndGlyphs" font-family='"Liberation Sans", sans-serif' stroke="#a01a66" stroke-width="0.4">19.00 mq</text>
<text x="563.7" y="110" font-size="6.6" font-weight="bold" font-style="italic" fill="#c0287f" textLength="19.5" lengthAdjust="spacingAndGlyphs" font-family='"Liberation Sans", sans-serif' stroke="#a01a66" stroke-width="0.4">12.26</text>
<text x="471.9" y="130.9" font-size="6.6" font-weight="bold" font-style="italic" fill="#c0287f" textLength="18.3" lengthAdjust="spacingAndGlyphs" font-family='"Liberation Sans", sans-serif' stroke="#a01a66" stroke-width="0.4">7.50</text>
<text x="374" y="253.5" font-size="6.6" font-weight="bold" font-style="italic" fill="#c0287f" textLength="15.5" lengthAdjust="spacingAndGlyphs" font-family='"Liberation Sans", sans-serif' stroke="#a01a66" stroke-width="0.4">3.30</text>
<text x="512.3" y="262.5" font-size="6.6" font-weight="bold" font-style="italic" fill="#c0287f" textLength="15.7" lengthAdjust="spacingAndGlyphs" font-family='"Liberation Sans", sans-serif' stroke="#a01a66" stroke-width="0.4">2.00</text>
<text x="576.4" y="277.3" font-size="6.6" font-weight="bold" font-style="italic" fill="#c0287f" textLength="17.2" lengthAdjust="spacingAndGlyphs" font-family='"Liberation Sans", sans-serif' stroke="#a01a66" stroke-width="0.4">1.10</text>
<text x="714.4" y="267.8" font-size="6.6" font-weight="bold" font-style="italic" fill="#c0287f" textLength="15.8" lengthAdjust="spacingAndGlyphs" font-family='"Liberation Sans", sans-serif' stroke="#a01a66" stroke-width="0.4">3.65</text>
<text x="476.8" y="597.2" font-size="6.6" font-weight="bold" font-style="italic" fill="#c0287f" textLength="15.2" lengthAdjust="spacingAndGlyphs" font-family='"Liberation Sans", sans-serif' stroke="#a01a66" stroke-width="0.4">7.45</text>
<text transform="translate(315.4,196.0) rotate(-90)" x="0" y="0" font-size="6.6" font-weight="bold" font-style="italic" fill="#c0287f" textLength="15.0" lengthAdjust="spacingAndGlyphs" font-family='"Liberation Sans", sans-serif' stroke="#a01a66" stroke-width="0.3">1.60</text>
<text transform="translate(301.4,358.0) rotate(-90)" x="0" y="0" font-size="6.6" font-weight="bold" font-style="italic" fill="#c0287f" textLength="17.0" lengthAdjust="spacingAndGlyphs" font-family='"Liberation Sans", sans-serif' stroke="#a01a66" stroke-width="0.3">6.40</text>
<text transform="translate(314.9,331.0) rotate(-90)" x="0" y="0" font-size="6.6" font-weight="bold" font-style="italic" fill="#c0287f" textLength="18.0" lengthAdjust="spacingAndGlyphs" font-family='"Liberation Sans", sans-serif' stroke="#a01a66" stroke-width="0.3">4.30</text>
<text transform="translate(314.9,444.0) rotate(-90)" x="0" y="0" font-size="6.6" font-weight="bold" font-style="italic" fill="#c0287f" textLength="16.4" lengthAdjust="spacingAndGlyphs" font-family='"Liberation Sans", sans-serif' stroke="#a01a66" stroke-width="0.3">1.30</text>
<text transform="translate(461.4,286.6) rotate(-90)" x="0" y="0" font-size="6.6" font-weight="bold" font-style="italic" fill="#c0287f" textLength="15.6" lengthAdjust="spacingAndGlyphs" font-family='"Liberation Sans", sans-serif' stroke="#a01a66" stroke-width="0.3">3.00</text>
<text transform="translate(460.9,349.7) rotate(-90)" x="0" y="0" font-size="6.6" font-weight="bold" font-style="italic" fill="#c0287f" textLength="15.2" lengthAdjust="spacingAndGlyphs" font-family='"Liberation Sans", sans-serif' stroke="#a01a66" stroke-width="0.3">1.10</text>
<text transform="translate(461.0,433.7) rotate(-90)" x="0" y="0" font-size="6.6" font-weight="bold" font-style="italic" fill="#c0287f" textLength="16.7" lengthAdjust="spacingAndGlyphs" font-family='"Liberation Sans", sans-serif' stroke="#a01a66" stroke-width="0.3">2.40</text>
<text transform="translate(493.7,439.2) rotate(-90)" x="0" y="0" font-size="8.6" font-weight="bold" font-style="italic" fill="#c0287f" textLength="44.7" lengthAdjust="spacingAndGlyphs" font-family='"Liberation Sans", sans-serif' stroke="#a01a66" stroke-width="0.3">A. cottura</text>
<text transform="translate(836.1,358.0) rotate(-90)" x="0" y="0" font-size="6.6" font-weight="bold" font-style="italic" fill="#c0287f" textLength="15.0" lengthAdjust="spacingAndGlyphs" font-family='"Liberation Sans", sans-serif' stroke="#a01a66" stroke-width="0.3">5.70</text>
<text transform="translate(861.4,358.0) rotate(-90)" x="0" y="0" font-size="6.6" font-weight="bold" font-style="italic" fill="#c0287f" textLength="15.0" lengthAdjust="spacingAndGlyphs" font-family='"Liberation Sans", sans-serif' stroke="#a01a66" stroke-width="0.3">6.40</text>
<text transform="translate(650.7,533.9) rotate(-90)" x="0" y="0" font-size="6.6" font-weight="bold" font-style="italic" fill="#c0287f" textLength="17.1" lengthAdjust="spacingAndGlyphs" font-family='"Liberation Sans", sans-serif' stroke="#a01a66" stroke-width="0.3">2.50</text>
<text transform="translate(409.8,251.5) rotate(-90)" x="0" y="0" font-size="7.2" font-weight="bold" font-style="italic" fill="#36a843" textLength="12.0" lengthAdjust="spacingAndGlyphs" font-family='"Liberation Sans", sans-serif' stroke="#1c7a2a" stroke-width="0.7">120</text>
<text transform="translate(417.7,251.5) rotate(-90)" x="0" y="0" font-size="7.2" font-weight="bold" font-style="italic" fill="#36a843" textLength="12.0" lengthAdjust="spacingAndGlyphs" font-family='"Liberation Sans", sans-serif' stroke="#1c7a2a" stroke-width="0.7">150</text>
<text transform="translate(530.3,253.0) rotate(-90)" x="0" y="0" font-size="7.2" font-weight="bold" font-style="italic" fill="#36a843" textLength="12.0" lengthAdjust="spacingAndGlyphs" font-family='"Liberation Sans", sans-serif' stroke="#1c7a2a" stroke-width="0.7">120</text>
<text transform="translate(538.2,253.0) rotate(-90)" x="0" y="0" font-size="7.2" font-weight="bold" font-style="italic" fill="#36a843" textLength="12.0" lengthAdjust="spacingAndGlyphs" font-family='"Liberation Sans", sans-serif' stroke="#1c7a2a" stroke-width="0.7">150</text>
<text transform="translate(723.0,255.0) rotate(-90)" x="0" y="0" font-size="7.2" font-weight="bold" font-style="italic" fill="#36a843" textLength="12.0" lengthAdjust="spacingAndGlyphs" font-family='"Liberation Sans", sans-serif' stroke="#1c7a2a" stroke-width="0.7">120</text>
<text transform="translate(730.9,255.0) rotate(-90)" x="0" y="0" font-size="7.2" font-weight="bold" font-style="italic" fill="#36a843" textLength="12.0" lengthAdjust="spacingAndGlyphs" font-family='"Liberation Sans", sans-serif' stroke="#1c7a2a" stroke-width="0.7">150</text>
<text transform="translate(410.3,461.0) rotate(-90)" x="0" y="0" font-size="7.2" font-weight="bold" font-style="italic" fill="#36a843" textLength="12.0" lengthAdjust="spacingAndGlyphs" font-family='"Liberation Sans", sans-serif' stroke="#1c7a2a" stroke-width="0.7">120</text>
<text transform="translate(418.2,461.0) rotate(-90)" x="0" y="0" font-size="7.2" font-weight="bold" font-style="italic" fill="#36a843" textLength="12.0" lengthAdjust="spacingAndGlyphs" font-family='"Liberation Sans", sans-serif' stroke="#1c7a2a" stroke-width="0.7">150</text>
<text transform="translate(552.5,460.0) rotate(-90)" x="0" y="0" font-size="7.2" font-weight="bold" font-style="italic" fill="#36a843" textLength="13.0" lengthAdjust="spacingAndGlyphs" font-family='"Liberation Sans", sans-serif' stroke="#1c7a2a" stroke-width="0.7">120</text>
<text transform="translate(560.4,460.0) rotate(-90)" x="0" y="0" font-size="7.2" font-weight="bold" font-style="italic" fill="#36a843" textLength="13.0" lengthAdjust="spacingAndGlyphs" font-family='"Liberation Sans", sans-serif' stroke="#1c7a2a" stroke-width="0.7">150</text>
<text transform="translate(722.9,459.0) rotate(-90)" x="0" y="0" font-size="7.2" font-weight="bold" font-style="italic" fill="#36a843" textLength="13.0" lengthAdjust="spacingAndGlyphs" font-family='"Liberation Sans", sans-serif' stroke="#1c7a2a" stroke-width="0.7">120</text>
<text transform="translate(730.8,459.0) rotate(-90)" x="0" y="0" font-size="7.2" font-weight="bold" font-style="italic" fill="#36a843" textLength="13.0" lengthAdjust="spacingAndGlyphs" font-family='"Liberation Sans", sans-serif' stroke="#1c7a2a" stroke-width="0.7">150</text>
<text x="781.7" y="348.7" font-size="7.4" font-weight="bold" font-style="italic" fill="#36a843" textLength="11.3" lengthAdjust="spacingAndGlyphs" font-family='"Liberation Sans", sans-serif' stroke="#1c7a2a" stroke-width="0.6">120</text>
<text x="780.9" y="357.9" font-size="7.4" font-weight="bold" font-style="italic" fill="#36a843" textLength="12.1" lengthAdjust="spacingAndGlyphs" font-family='"Liberation Sans", sans-serif' stroke="#1c7a2a" stroke-width="0.6">255</text>
<text x="504.6" y="46.4" font-size="31" font-family='"Liberation Serif", serif' fill="#161616" stroke="#161616" stroke-width="0.6" textLength="15.4" lengthAdjust="spacingAndGlyphs">B</text>
<text x="505.5" y="637.9" font-size="31" font-family='"Liberation Serif", serif' fill="#161616" stroke="#161616" stroke-width="0.6" textLength="16.4" lengthAdjust="spacingAndGlyphs">B</text>
<text x="245.8" y="375.6" font-size="31" font-family='"Liberation Sans", sans-serif' fill="#161616" stroke="#161616" stroke-width="0.45" textLength="16.6" lengthAdjust="spacingAndGlyphs">C</text>
<text x="878.2" y="376.5" font-size="31" font-family='"Liberation Sans", sans-serif' fill="#161616" stroke="#161616" stroke-width="0.45" textLength="17.4" lengthAdjust="spacingAndGlyphs">C</text>
<text x="556.5" y="783" font-size="39" font-style="italic" font-family='"Liberation Sans", sans-serif' fill="#cf3a8c" stroke="#a21c63" stroke-width="1.3" textLength="267.5" lengthAdjust="spacingAndGlyphs">PIANO&#160;&#160;TERRA</text>
<line x1="550" y1="791" x2="820.7" y2="791" stroke="#6e2a50" stroke-width="1.8"/>
</svg>
</body></html>
